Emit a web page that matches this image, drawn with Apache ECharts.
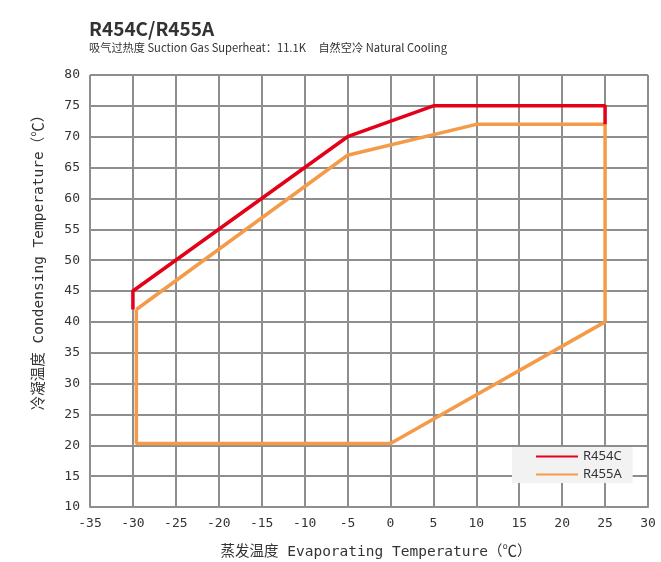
<!DOCTYPE html>
<html>
<head>
<meta charset="utf-8">
<script src="https://cdn.jsdelivr.net/npm/echarts@6/dist/echarts.min.js"></script>
<style>
  html, body { margin: 0; padding: 0; background: #fff; }
  #chart { width: 661px; height: 562px; }
</style>
</head>
<body>
<div id="chart"></div>
<script>
// R454C envelope (evaporating / condensing temperature, °C)
const evapR454C = [-30, -30, -5, 5, 25, 25]
const condR454C = [42, 45, 70, 75, 75, 72]

// R455A envelope
const evapR455A = [-29.6, -5, 10, 25, 25, 0, -29.6, -29.6]
const condR455A = [42, 67, 72, 72, 40, 20.3, 20.3, 42]

const seriesNames = ['R454C', 'R455A']

const monoFont = "'DejaVu Sans Mono', 'Noto Sans CJK SC', monospace"
const gridColor = '#8e8e8e'

const zip = (xs, ys) => xs.map((x, i) => [x, ys[i]])

const chart = echarts.init(document.getElementById('chart'))
chart.setOption({
  animation: false,
  title: {
    text: 'R454C/R455A',
    subtext: '吸气过热度 Suction Gas Superheat：11.1K     自然空冷 Natural Cooling',
    left: 84,
    top: 14,
    itemGap: 4,
    textStyle: { fontFamily: "'Noto Sans CJK SC', sans-serif", fontSize: 19, fontWeight: 'bold', color: '#333' },
    subtextStyle: { fontFamily: "'Noto Sans CJK SC', sans-serif", fontSize: 11.2, color: '#333' }
  },
  legend: {
    orient: 'vertical',
    left: 512,
    top: 447,
    padding: [3, 11, 2, 23],
    backgroundColor: '#f2f2f2',
    itemWidth: 42,
    itemHeight: 14,
    itemGap: 5,
    itemStyle: { opacity: 0 },
    textStyle: { fontFamily: "'Noto Sans', sans-serif", fontSize: 13, color: '#333' },
    data: seriesNames
  },
  grid: { left: 90, right: 13, top: 75, bottom: 55, outerBoundsMode: 'none', containLabel: false },
  xAxis: {
    type: 'value',
    min: -35,
    max: 30,
    interval: 5,
    name: '蒸发温度 Evaporating Temperature（℃）',
    nameLocation: 'middle',
    nameGap: 38,
    nameTextStyle: { fontFamily: monoFont, fontSize: 14.5, color: '#333', padding: [0, 0, 0, 14] },
    axisLine: { lineStyle: { color: gridColor, width: 2 } },
    axisTick: { show: false },
    axisLabel: { fontFamily: monoFont, fontSize: 13, color: '#333', margin: 10 },
    splitLine: { lineStyle: { color: gridColor, width: 2 } }
  },
  yAxis: {
    type: 'value',
    min: 10,
    max: 80,
    interval: 5,
    name: '冷凝温度 Condensing Temperature（℃）',
    nameLocation: 'middle',
    nameGap: 44,
    nameTextStyle: { fontFamily: monoFont, fontSize: 14.5, color: '#333', padding: [0, 0, 0, 64] },
    axisLine: { show: true, lineStyle: { color: gridColor, width: 2 } },
    axisTick: { show: false },
    axisLabel: { fontFamily: monoFont, fontSize: 13, color: '#333', margin: 10 },
    splitLine: { lineStyle: { color: gridColor, width: 2 } }
  },
  series: [
    {
      name: seriesNames[0],
      type: 'line',
      data: zip(evapR454C, condR454C),
      showSymbol: false,
      symbol: 'none',
      z: 3,
      itemStyle: { color: '#e5001a' },
      lineStyle: { color: '#e5001a', width: 3.5 }
    },
    {
      name: seriesNames[1],
      type: 'line',
      data: zip(evapR455A, condR455A),
      showSymbol: false,
      symbol: 'none',
      z: 2,
      itemStyle: { color: '#f39b49' },
      lineStyle: { color: '#f39b49', width: 3.5 }
    }
  ]
})
</script>
</body>
</html>
